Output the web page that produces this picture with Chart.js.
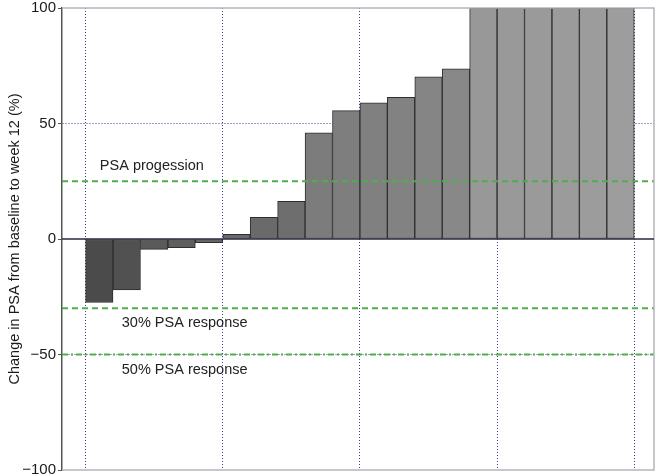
<!DOCTYPE html>
<html>
<head>
<meta charset="utf-8">
<script src="https://cdn.jsdelivr.net/npm/chart.js@4"></script>
<style>
  html, body { margin: 0; padding: 0; background: #fff; }
  #wrap { width: 656px; height: 476px; }
</style>
</head>
<body>
<div id="wrap"><canvas id="chart" width="656" height="476"></canvas></div>
<script>
// Waterfall of PSA change per patient
const patients = [1, 2, 3, 4, 5, 6, 7, 8, 9, 10, 11, 12, 13, 14, 15, 16, 17, 18, 19, 20];
const psaChange = [-27.5, -22, -4.5, -3.7, -1.6, 2, 9.4, 16.3, 46, 55.6, 59, 61.3, 70.2, 73.7, 100, 100, 100, 100, 100, 100];
const barColors = ['#4b4b4b', '#515151', '#5a5a5a', '#5e5e5e', '#666666',
                   '#6a6a6a', '#6a6a6a', '#6e6e6e',
                   '#7c7c7c', '#7e7e7e', '#808080', '#828282', '#858585', '#888888',
                   '#989898', '#999999', '#9a9a9a', '#9b9b9b', '#9c9c9c', '#9d9d9d'];
const yTicks = [-100, -50, 0, 50, 100];
const xGrid = [0.5, 5.5, 10.5, 15.5, 20.5];
const thresholds = [25, -30, -50];
const thresholdLabels = ['PSA progession', '30% PSA response', '50% PSA response'];
const labelPos = [[1.02, 31.5], [1.82, -36.5], [1.82, -56.8]];

const xMin = -0.36, xMax = 21.22;
const green = '#4fae4a';
const font = '"Liberation Sans", Arial, sans-serif';

// text labels next to the reference lines
const lineLabels = {
    id: 'lineLabels',
    afterDatasetsDraw(chart) {
        const { ctx, scales } = chart;
        ctx.save();
        ctx.font = '14.5px ' + font;
        ctx.fillStyle = '#222';
        ctx.textBaseline = 'middle';
        thresholdLabels.forEach((t, i) => {
            ctx.fillText(t, scales.x.getPixelForValue(labelPos[i][0]), scales.y.getPixelForValue(labelPos[i][1]));
        });
        ctx.restore();
    }
};

// frame + zero line
const frame = {
    id: 'frame',
    afterDraw(chart) {
        const { ctx, chartArea: a, scales } = chart;
        ctx.save();
        ctx.strokeStyle = '#b4b4bc';
        ctx.lineWidth = 1.5;
        ctx.beginPath();
        ctx.moveTo(a.left, a.top); ctx.lineTo(a.right, a.top);
        ctx.lineTo(a.right, a.bottom); ctx.lineTo(a.left, a.bottom);
        ctx.stroke();
        const y0 = scales.y.getPixelForValue(0);
        ctx.strokeStyle = '#2a2a3a';
        ctx.lineWidth = 1.5;
        ctx.beginPath();
        ctx.moveTo(a.left, y0); ctx.lineTo(a.right, y0);
        ctx.stroke();
        ctx.restore();
    }
};

function refLine(y, dash) {
    return {
        type: 'line',
        data: [{ x: xMin, y: y }, { x: xMax, y: y }],
        borderColor: green,
        borderWidth: 2,
        borderDash: dash,
        pointRadius: 0,
        order: 0
    };
}

new Chart(document.getElementById('chart'), {
    type: 'bar',
    data: {
        datasets: [
            {
                data: patients.map((p, i) => ({ x: p, y: psaChange[i] })),
                backgroundColor: barColors,
                borderColor: '#2e2e2e',
                borderWidth: 1,
                borderSkipped: false,
                barPercentage: 1,
                categoryPercentage: 1,
                order: 1
            },
            refLine(thresholds[0], [6, 4]),
            refLine(thresholds[1], [6, 4]),
            refLine(thresholds[2], [6, 3, 2, 3])
        ]
    },
    options: {
        responsive: false,
        animation: false,
        layout: { padding: { top: 8, right: 2, bottom: 6, left: 0 } },
        plugins: { legend: { display: false }, tooltip: { enabled: false } },
        scales: {
            x: {
                type: 'linear',
                min: xMin,
                max: xMax,
                offset: false,
                z: 1,
                afterBuildTicks: (s) => { s.ticks = xGrid.map(v => ({ value: v })); },
                afterFit: (s) => { s.height = 0; },
                ticks: { display: false },
                grid: { offset: false, color: '#3c3c8c', lineWidth: 1, tickLength: 0, drawTicks: false },
                border: { display: false, dash: [1, 2] }
            },
            y: {
                min: -100,
                max: 100,
                z: 1,
                afterBuildTicks: (s) => { s.ticks = yTicks.map(v => ({ value: v })); },
                afterFit: (s) => { s.width = 62; s.paddingTop = 0; s.paddingBottom = 0; },
                ticks: {
                    color: '#1a1a1a',
                    font: { size: 15, family: font, lineHeight: 0.8 },
                    padding: 2,
                    callback: (v) => String(v).replace('-', '\u2212')
                },
                grid: {
                    color: (c) => (c.tick && Math.abs(c.tick.value) === 50) ? '#3c3c8c' : 'rgba(0,0,0,0)',
                    tickColor: '#555',
                    tickLength: 4,
                    lineWidth: 1
                },
                border: { display: true, color: '#555', width: 1.5, dash: [1, 2] },
                title: {
                    display: true,
                    text: 'Change in PSA from baseline to week 12 (%)',
                    color: '#1a1a1a',
                    font: { size: 14.5, family: font },
                    padding: { top: 6, bottom: 0 }
                }
            }
        }
    },
    plugins: [lineLabels, frame]
});
</script>
</body>
</html>
